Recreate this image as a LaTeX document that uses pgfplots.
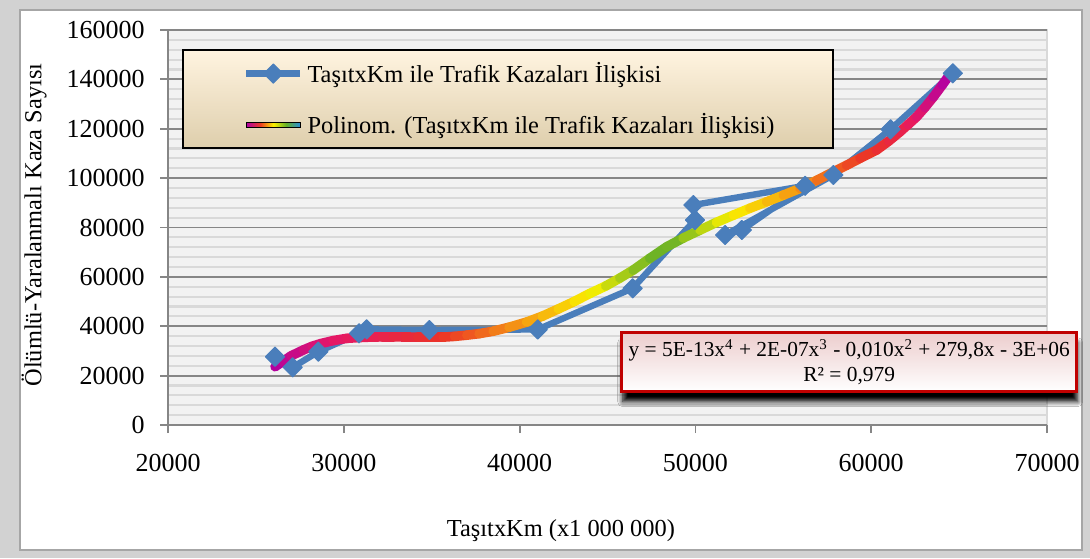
\documentclass[border=0pt]{standalone}
\usepackage{fontspec}
\setmainfont{Liberation Serif}
\usepackage{pgfplots}
\pgfplotsset{compat=1.18}
\usetikzlibrary{shadows,shadows.blur}

\definecolor{serblue}{RGB}{74,126,187}
\definecolor{gridmaj}{RGB}{134,134,134}
\definecolor{gridmin}{RGB}{217,217,217}
\definecolor{plotbg}{RGB}{242,242,242}
\definecolor{legtop}{RGB}{255,244,224}
\definecolor{legbot}{RGB}{222,206,172}
\definecolor{eqred}{RGB}{192,0,0}
\definecolor{eqpink}{RGB}{236,205,205}
\definecolor{tmag}{RGB}{175,0,165}
\definecolor{tred}{RGB}{235,60,35}
\definecolor{tyellow}{RGB}{250,240,0}
\definecolor{tgreen}{RGB}{100,175,40}
\definecolor{tblue}{RGB}{40,140,220}

\pgfdeclarehorizontalshading{trendleg}{100bp}{color(0bp)=(tmag); color(25bp)=(tmag); color(38bp)=(tred); color(50bp)=(tyellow); color(62bp)=(tgreen); color(75bp)=(tblue); color(100bp)=(tblue)}

\pgfplotsset{
    colormap={trend}{rgb255(0cm)=(175,0,165) rgb255(2.5cm)=(230,25,100) rgb255(4.5cm)=(235,50,40) rgb255(6.5cm)=(245,150,20) rgb255(8.5cm)=(250,240,0) rgb255(10cm)=(100,175,40)},
    blueleg/.style={legend image code/.code={%
        \draw[mark repeat=2, mark phase=2, ##1] plot coordinates {(0pt,0pt) (13.5pt,0pt) (27pt,0pt)};}},
    trendlegimg/.style={legend image code/.code={%
        \shade[shading=trendleg] (0pt,-1.3pt) rectangle (27pt,1.3pt);}},
}

\begin{document}
\begin{tikzpicture}[font=\fontsize{12.2}{14}\selectfont]
\useasboundingbox (0,0) rectangle (545pt,279pt);
\fill[gray!35] (0,0) rectangle (545pt,279pt);
\fill[white, draw=gray!70, line width=0.6pt] (10pt,4pt) rectangle (541pt,274pt);
\begin{axis}[
    at={(84pt,66.5pt)}, anchor=south west,
    scale only axis, width=439.5pt, height=197.5pt,
    xmin=20000, xmax=70000, ymin=0, ymax=160000,
    xtick={20000,30000,...,70000},
    ytick={0,20000,...,160000},
    minor y tick num=4,
    scaled ticks=false,
    /pgf/number format/fixed,
    /pgf/number format/1000 sep={},
    /pgf/number format/assume math mode=true,
    axis x line*=bottom, axis y line*=left,
    axis line style={-, gridmaj, line width=0.9pt},
    axis background/.style={fill=plotbg, draw=gridmin, line width=0.9pt},
    ymajorgrids, yminorgrids,
    major grid style={gridmaj, line width=0.9pt},
    minor grid style={gridmin, line width=1.1pt},
    tick align=outside,
    major tick length=4pt, minor tick length=0pt,
    tick style={gridmaj, line width=0.9pt},
    xtick pos=bottom, ytick pos=left,
    ticklabel style={font=\fontsize{13}{15}\selectfont},
    yticklabel style={anchor=east, inner sep=0pt, xshift=-7.5pt},
    xticklabel style={anchor=north, inner sep=0pt, yshift=-10.5pt},
    xlabel={TaşıtxKm (x1 000 000)},
    xlabel style={at={(axis description cs:0.447,-0.268)}, anchor=center},
    ylabel={Ölümlü-Yaralanmalı Kaza Sayısı},
    ylabel style={at={(axis description cs:-0.1524,0.506)}, anchor=center},
    clip=false,
    legend cell align=left,
    legend style={at={(axis description cs:0.085,0.825)}, anchor=west,
        draw=none, fill=none, inner sep=0pt, row sep=10pt,
        font=\fontsize{12.2}{14}\selectfont,
        /tikz/every even column/.append style={column sep=2pt}},
]
\addplot[serblue, line width=3.2pt, line join=round,
    mark=square*, mark size=3.4pt,
    mark options={rotate=45, solid, fill=serblue, draw=serblue, line width=0.5pt},
    blueleg]
coordinates {
(26087,27670) (27093,23370) (28550,29690) (30865,37140) (31300,38760)
(34865,38480) (41030,38700) (46430,55370) (49975,83040) (49884,89110)
(56240,96900) (52640,78990) (51690,76960) (57850,101270) (61100,119780)
(64640,142460)
};
\addlegendentry{TaşıtxKm ile Trafik Kazaları İlişkisi}

\addplot[mesh, forget plot, colormap name=trend, point meta=explicit,
    point meta min=0, point meta max=1,
    line width=4.8pt, line cap=round, line join=round]
table[meta=c] {
x y c
26087 23600 0.00
26500 25600 0.05
27000 28000 0.09
27700 30400 0.14
28200 31900 0.17
28700 33000 0.20
29400 34200 0.23
30165 35100 0.26
30800 35400 0.28
31500 35600 0.30
32200 35700 0.33
32820 35700 0.35
33500 35650 0.38
34200 35600 0.40
34900 35600 0.43
35660 35600 0.45
36300 35900 0.48
37000 36400 0.51
37700 37000 0.54
38500 38000 0.58
39400 39600 0.62
40400 41700 0.66
41300 44100 0.71
42200 47000 0.75
43100 50000 0.80
44000 53300 0.84
44900 56300 0.88
45700 59500 0.92
46460 62750 0.95
47400 67500 0.98
48370 72200 1.00
49300 75700 0.97
50260 78950 0.93
51200 82100 0.89
52160 85000 0.85
53100 87800 0.80
54050 90400 0.75
55000 93100 0.70
55950 95830 0.65
56900 99100 0.60
57850 102550 0.55
58600 105200 0.51
59360 108000 0.48
60300 111340 0.44
61000 115000 0.39
61640 118760 0.35
62100 121700 0.30
62580 124800 0.25
63050 128600 0.19
63540 132900 0.13
64050 137800 0.06
64570 143000 0.00
};
\addlegendimage{trendlegimg}
\addlegendentry{Polinom. (TaşıtxKm ile Trafik Kazaları İlişkisi)}

\draw[black, line width=0.9pt, top color=legtop, bottom color=legbot]
    (rel axis cs:0.017,0.701) rectangle (rel axis cs:0.7565,0.949);

\node[draw=eqred, line width=1.5pt, top color=eqpink, bottom color=white,
    blur shadow={shadow xshift=0.5pt, shadow yshift=-5pt, shadow opacity=100,
        shadow blur radius=2.5pt, shadow blur steps=6},
    minimum width=227.5pt, minimum height=29.5pt, align=center, inner sep=1pt,
    font=\fontsize{10.7}{12.5}\selectfont]
    at (rel axis cs:0.775,0.159)
    {y = 5E-13x\textsuperscript{4} + 2E-07x\textsuperscript{3} - 0,010x\textsuperscript{2} + 279,8x - 3E+06\\ R² = 0,979};
\end{axis}
\end{tikzpicture}
\end{document}
